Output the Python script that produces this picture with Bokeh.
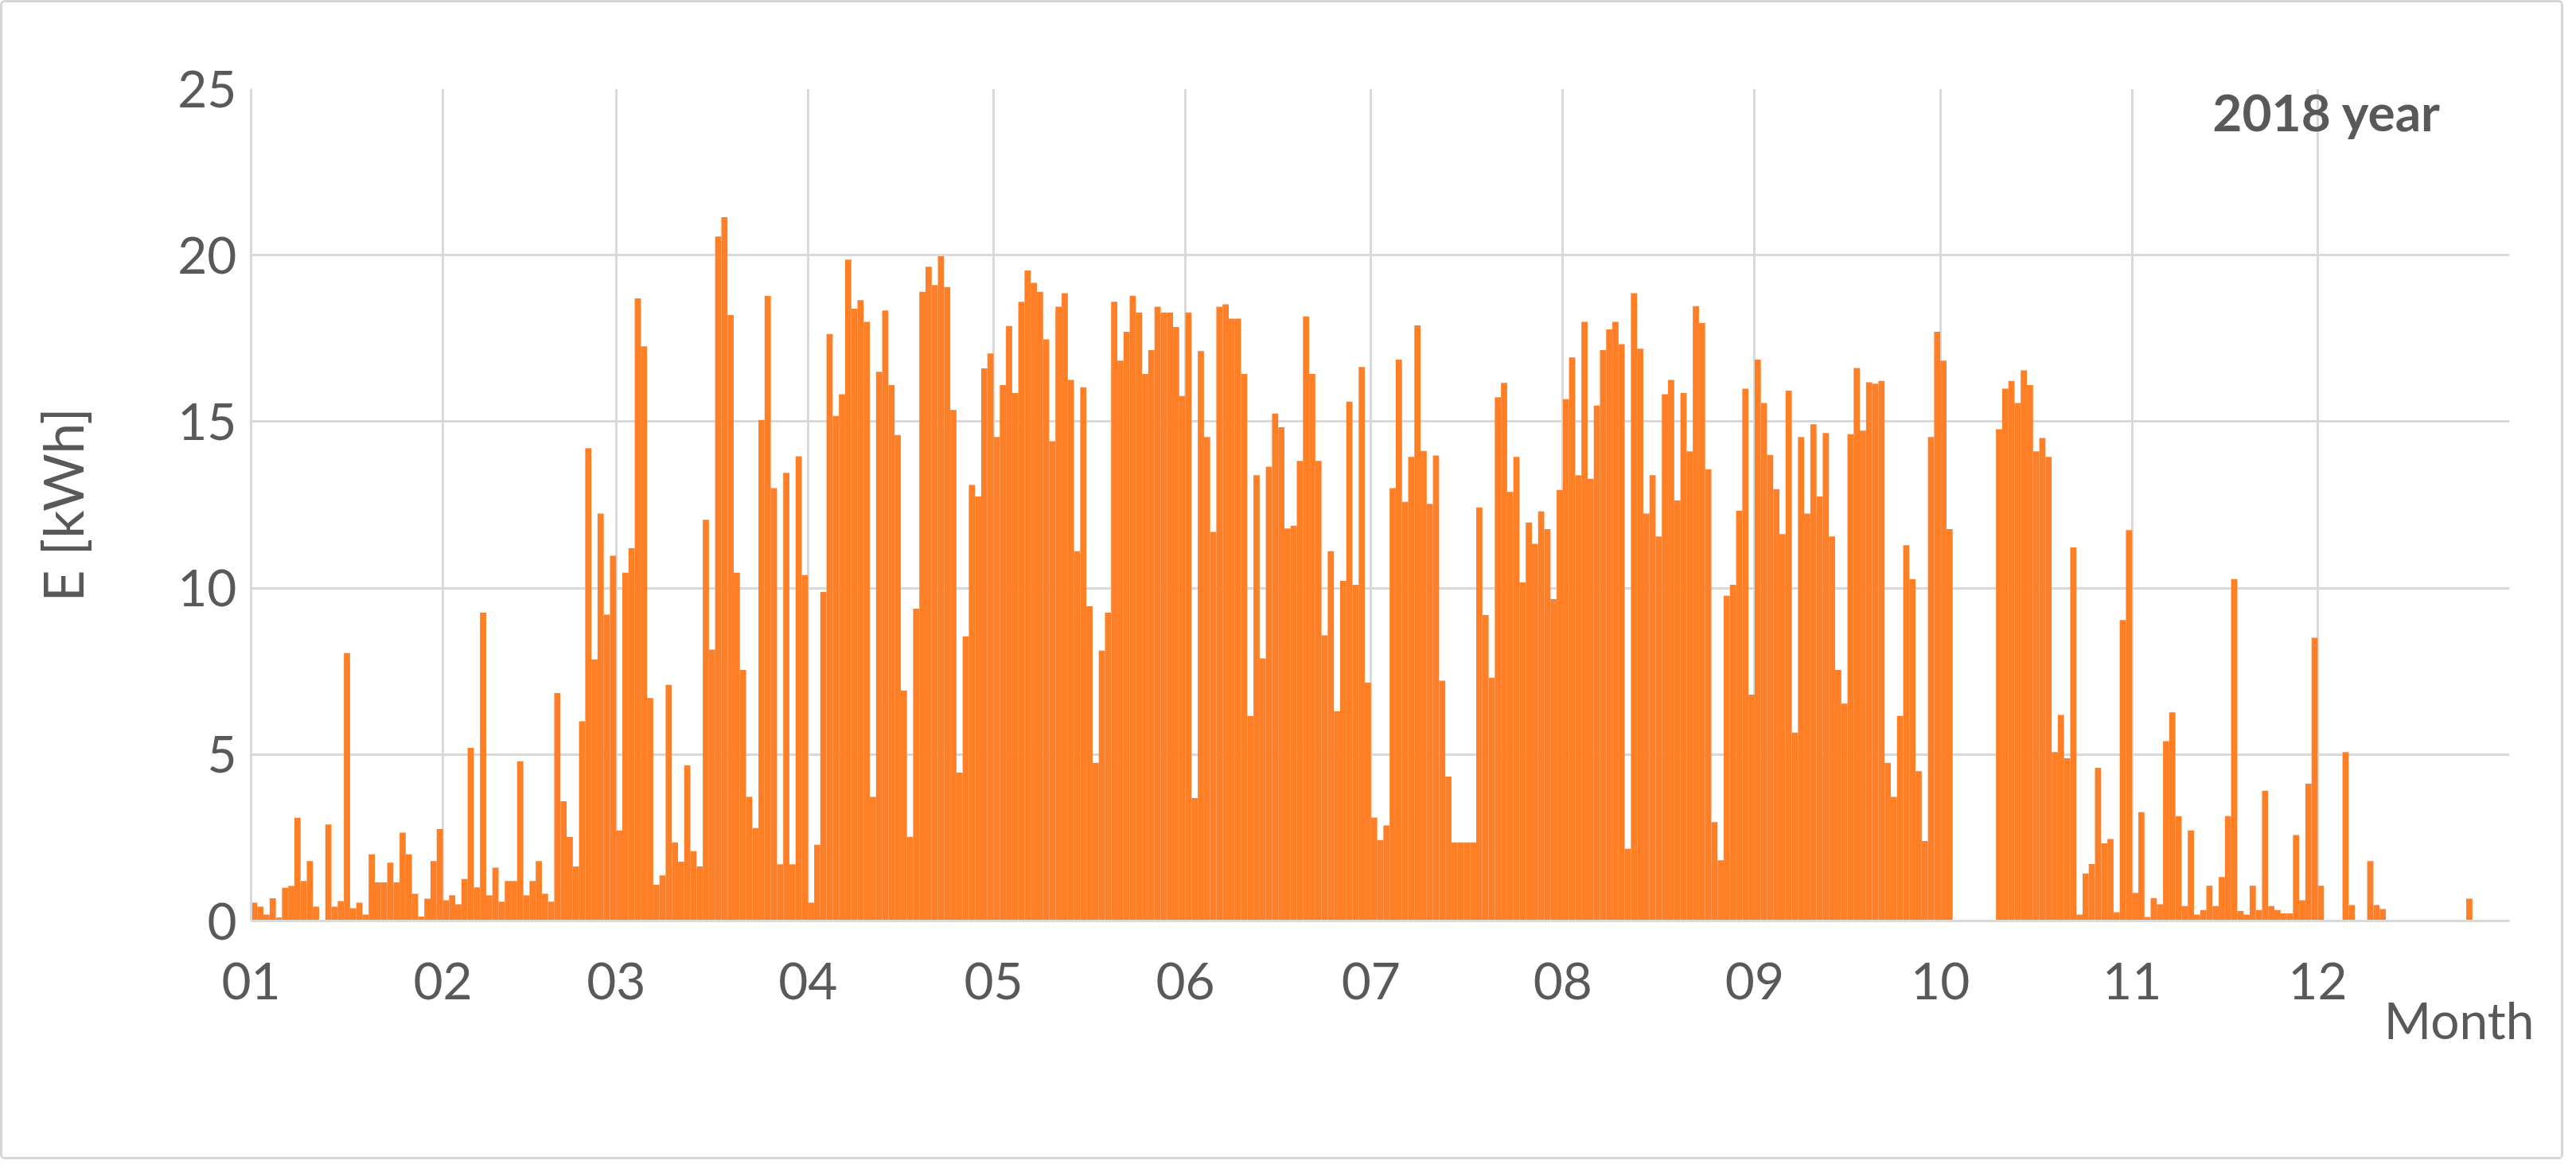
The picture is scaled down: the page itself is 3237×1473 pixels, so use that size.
from bokeh.plotting import figure
from bokeh.models import Range1d, FixedTicker, Label, Title
from bokeh.embed import file_html
from bokeh.resources import INLINE

# Daily energy E [kWh], 2018, one list per month
jan = [0.55, 0.43, 0.19, 0.68, 0.1, 1.0, 1.05, 3.1, 1.2, 1.8, 0.43, 0, 2.9, 0.43, 0.6, 8.05,
       0.38, 0.55, 0.19, 2.0, 1.16, 1.16, 1.75, 1.16, 2.65, 2.0, 0.82, 0.13, 0.67, 1.8, 2.76]
feb = [0.62, 0.77, 0.5, 1.26, 5.2, 1.01, 9.26, 0.77, 1.6, 0.58, 1.2, 1.2, 4.8, 0.77, 1.2, 1.8,
       0.82, 0.58, 6.85, 3.6, 2.53, 1.64, 6.0, 14.2, 7.86, 12.24, 9.2, 10.97]
mar = [2.72, 10.46, 11.2, 18.7, 17.26, 6.7, 1.09, 1.37, 7.09, 2.36, 1.78, 4.67, 2.1, 1.64, 12.05,
       8.15, 20.56, 21.14, 18.2, 10.46, 7.54, 3.73, 2.79, 15.05, 18.78, 13.0, 1.7, 13.46, 1.7,
       13.96, 10.39]
apr = [0.55, 2.29, 9.88, 17.63, 15.17, 15.82, 19.87, 18.39, 18.65, 18.0, 3.73, 16.5, 18.34, 16.1,
       14.6, 6.92, 2.53, 9.38, 18.9, 19.65, 19.1, 19.97, 19.04, 15.35, 4.46, 8.55, 13.1, 12.75,
       16.6, 17.05]
may = [14.54, 16.1, 17.87, 15.86, 18.6, 19.54, 19.17, 18.9, 17.47, 14.41, 18.45, 18.86, 16.25,
       11.11, 16.03, 9.45, 4.75, 8.12, 9.26, 18.6, 16.83, 17.7, 18.78, 18.28, 16.43, 17.15, 18.45,
       18.28, 18.28, 17.84, 15.77]
jun = [18.28, 3.69, 17.12, 14.54, 11.69, 18.45, 18.52, 18.09, 18.09, 16.43, 6.16, 13.39, 7.89,
       13.65, 15.24, 14.83, 11.79, 11.87, 13.82, 18.16, 16.43, 13.82, 8.58, 11.11, 6.3, 10.22,
       15.6, 10.1, 16.64, 7.16]
jul = [3.11, 2.43, 2.87, 13.0, 16.86, 12.59, 13.94, 17.89, 14.12, 12.53, 13.98, 7.22, 4.34, 2.36,
       2.36, 2.36, 2.36, 12.42, 9.19, 7.31, 15.73, 16.16, 12.89, 13.94, 10.17, 11.97, 11.33, 12.3,
       11.77, 9.67, 12.95]
aug = [15.67, 16.93, 13.39, 18.0, 13.28, 15.48, 17.15, 17.77, 18.0, 17.33, 2.17, 18.86, 17.19,
       12.24, 13.39, 11.55, 15.82, 16.25, 12.63, 15.86, 14.11, 18.47, 17.96, 13.57, 2.97, 1.82,
       9.77, 10.1, 12.32, 15.99, 6.8]
sep = [16.86, 15.56, 14.0, 12.97, 11.62, 15.93, 5.66, 14.54, 12.24, 14.92, 12.75, 14.66, 11.55,
       7.54, 6.53, 14.62, 16.61, 14.73, 16.18, 16.14, 16.22, 4.75, 3.73, 6.16, 11.29, 10.27, 4.5,
       2.4, 14.54, 17.7]
oct_ = [16.83, 11.77, 0, 0, 0, 0, 0, 0, 0, 14.77, 15.99, 16.22, 15.56, 16.54, 16.1, 14.11, 14.51,
        13.94, 5.07, 6.19, 4.89, 11.22, 0.19, 1.42, 1.71, 4.6, 2.33, 2.46, 0.26, 9.04, 11.74]
nov = [0.84, 3.27, 0.12, 0.69, 0.5, 5.4, 6.27, 3.15, 0.45, 2.72, 0.19, 0.33, 1.06, 0.45, 1.32,
       3.15, 10.27, 0.3, 0.19, 1.06, 0.33, 3.91, 0.45, 0.33, 0.23, 0.23, 2.58, 0.62, 4.12, 8.51]
dec = [1.06, 0, 0, 0, 5.07, 0.48, 0, 0, 1.8, 0.48, 0.36, 0, 0, 0, 0, 0, 0, 0, 0, 0, 0, 0, 0, 0,
       0.67, 0, 0, 0, 0, 0, 0]

months = [jan, feb, mar, apr, may, jun, jul, aug, sep, oct_, nov, dec]
month_labels = ["01", "02", "03", "04", "05", "06", "07", "08", "09", "10", "11", "12"]

energy = [v for m in months for v in m]
days = [i + 0.5 for i in range(len(energy))]
month_starts = []
acc = 0
for m in months:
    month_starts.append(acc)
    acc += len(m)
n_days = acc

FONT = "Lato"
GRAY = "#595959"
GRID = "#d9d9d9"

p = figure(width=3221, height=1457, output_backend="svg", toolbar_location=None,
           x_range=Range1d(0, n_days), y_range=Range1d(0, 25),
           min_border_left=312, min_border_right=71, min_border_top=108, min_border_bottom=303)
p.styles = {"border": "3px solid #d6d6d6", "border-radius": "6px", "box-sizing": "border-box"}
p.outline_line_color = None
p.background_fill_color = "white"
p.border_fill_color = "white"

p.vbar(x=days, top=energy, width=1.0, bottom=0, fill_color="#FF7F27", line_color=None)

ticks = month_starts + [n_days]
overrides = {t: lab for t, lab in zip(month_starts, month_labels)}
overrides[n_days] = ""
p.xaxis.ticker = FixedTicker(ticks=ticks)
p.xaxis.major_label_overrides = overrides
p.yaxis.ticker = FixedTicker(ticks=[0, 5, 10, 15, 20, 25])

for ax in (p.xaxis[0], p.yaxis[0]):
    ax.major_label_text_font = FONT
    ax.major_label_text_font_size = "64px"
    ax.major_label_text_color = GRAY
    ax.major_tick_line_color = None
    ax.minor_tick_line_color = None
    ax.axis_line_color = GRID
    ax.axis_line_width = 3

p.xaxis.major_label_standoff = 46
p.yaxis.major_label_standoff = 12
p.yaxis.axis_label = "E [kWh]"
p.yaxis.axis_label_text_font = FONT
p.yaxis.axis_label_text_font_style = "normal"
p.yaxis.axis_label_text_font_size = "70px"
p.yaxis.axis_label_text_color = GRAY
p.yaxis.axis_label_standoff = 100

p.xgrid.grid_line_color = GRID
p.xgrid.grid_line_width = 3
p.ygrid.grid_line_color = GRID
p.ygrid.grid_line_width = 3

month_title = Title(text="Month", align="right", offset=-31, standoff=-36,
                    text_font=FONT, text_font_size="64px", text_font_style="normal",
                    text_color=GRAY)
p.add_layout(month_title, "below")

p.add_layout(Label(x=317, y=24.3, text="2018 year", text_font=FONT, text_font_size="64px",
                   text_font_style="bold", text_color=GRAY, text_align="left",
                   text_baseline="middle"))

open("out.html", "w").write(file_html(p, INLINE))
